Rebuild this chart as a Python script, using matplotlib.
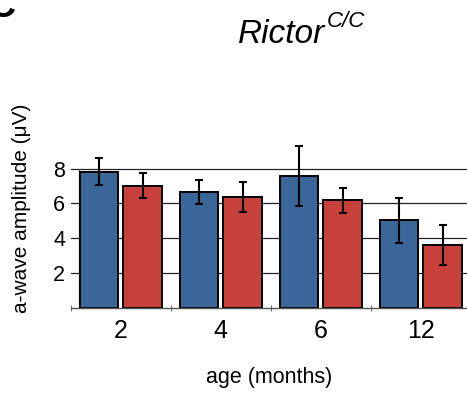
import numpy as np
import matplotlib
matplotlib.use("Agg")
import matplotlib.pyplot as plt

plt.rcParams['font.family'] = ['Liberation Sans', 'DejaVu Sans']

ages = ["2", "4", "6", "12"]
# blue (control) and red (Rictor C/C) means and SEM
blue_mean = [7.84, 6.68, 7.59, 5.03]
blue_err  = [0.80, 0.70, 1.75, 1.30]
red_mean  = [7.03, 6.38, 6.19, 3.61]
red_err   = [0.70, 0.86, 0.72, 1.13]
yticks = [2, 4, 6, 8]

BLUE = "#3A6699"
RED = "#C8403A"

W, H = 467, 394
fig = plt.figure(figsize=(W/100, H/100), dpi=100)
ax = fig.add_axes([70.7/W, 86.5/H, 400/W, 164.7/H])

xs = np.arange(len(ages))
bw, off = 0.385, 0.218
for yv in yticks:
    ax.axhline(yv, color="#222222", lw=0.9, zorder=0)
ax.bar(xs - off, blue_mean, width=bw, color=BLUE, edgecolor="black", lw=1.4, zorder=2)
ax.bar(xs + off, red_mean, width=bw, color=RED, edgecolor="black", lw=1.4, zorder=2)
ax.errorbar(xs - off, blue_mean, yerr=blue_err, fmt='none', ecolor="black",
            elinewidth=1.5, capsize=3.2, capthick=1.5, zorder=3)
ax.errorbar(xs + off, red_mean, yerr=red_err, fmt='none', ecolor="black",
            elinewidth=1.5, capsize=3.2, capthick=1.5, zorder=3)

ax.set_xlim(-0.5, 3.5)
ax.set_ylim(0, 9.5)
for s in ["top", "right", "left"]:
    ax.spines[s].set_visible(False)
ax.spines["bottom"].set_color("#555555")
ax.spines["bottom"].set_linewidth(1.0)
# y axis line sits just left of the first bar
ax.plot([-0.42, -0.42], [0, 8], color="#555555", lw=0.9, zorder=1, clip_on=False)

ax.set_xticks(xs)
ax.set_xticklabels(ages, fontsize=18)
ax.set_xticks(np.arange(-0.5, 4.0, 1.0), minor=True)
ax.tick_params(axis='x', which='major', length=0, pad=8)
ax.tick_params(axis='x', which='minor', length=4, direction='inout', color="#555555")
ax.set_yticks(yticks)
ax.set_yticklabels([str(v) for v in yticks], fontsize=15.5)
ax.tick_params(axis='y', length=0, pad=4)

fig.text(22/W, 1 - 208/H, "a-wave amplitude (\u03bcV)", rotation=90,
         ha='center', va='center', fontsize=15)
fig.text(269/W, 1 - 378/H, "age (months)", ha='center', va='center', fontsize=15.5)

fig.text(325/W, 1 - 43/H, "Rictor", ha='right', va='baseline',
         fontsize=24, style='italic')
fig.text(327/W, 1 - 27/H, "C/C", ha='left', va='baseline',
         fontsize=16, style='italic')
fig.text(-12/W, 1 - 17/H, "C", ha='left', va='baseline', fontsize=27, fontweight='bold')

fig.savefig("out.png", dpi=100)
